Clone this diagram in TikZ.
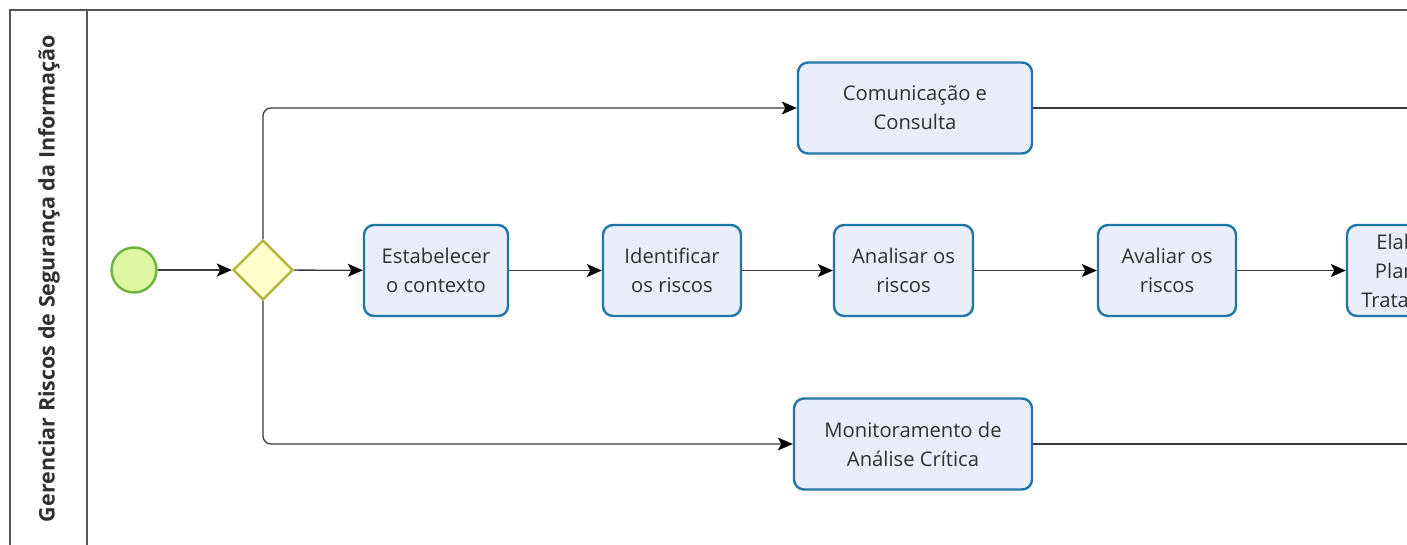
\documentclass[tikz,border=0pt]{standalone}
\usepackage{fontspec}
\setmainfont{Open Sans}
\usetikzlibrary{shapes.geometric,arrows.meta}
\definecolor{taskfill}{HTML}{EAEEFC}
\definecolor{taskdraw}{HTML}{2176A8}
\definecolor{startfill}{HTML}{DDF7A2}
\definecolor{startdraw}{HTML}{6CB33E}
\definecolor{gwfill}{HTML}{FFFFCC}
\definecolor{gwdraw}{HTML}{B3B33C}
\definecolor{txt}{HTML}{303030}
\definecolor{framecol}{HTML}{555555}
\definecolor{flowcol}{HTML}{3A3A3A}
\begin{document}
\begin{tikzpicture}[x=1pt,y=-1pt,
  task/.style={draw=taskdraw, fill=taskfill, line width=2.4pt, rounded corners=10pt,
    minimum height=91pt, align=center, font=\fontsize{20.2}{29}\selectfont, text=txt, inner sep=0pt},
  flow/.style={draw=flowcol, line width=1.3pt, rounded corners=8pt,
    -{Stealth[length=15pt,width=13pt,inset=3.5pt,color=black]}},
  plain/.style={draw=flowcol, line width=1.3pt},
  lanefr/.style={draw=framecol, line width=1.5pt}
]
\clip (0,0) rectangle (1407,545);
\fill[white] (0,0) rectangle (1407,545);
% frame
\coordinate (tr) at (1420,10);
\coordinate (tl) at (10,10);
\coordinate (bl) at (10,600);
\coordinate (st) at (87,10);
\coordinate (sb) at (87,600);
\draw[lanefr] (tr) -- (tl) -- (bl);
\draw[lanefr] (st) -- (sb);
\node[rotate=90, font=\bfseries\fontsize{21.5}{24}\selectfont, text=txt] (lane) at (49,278.5)
  {Gerenciar Riscos de Segurança da Informação};
% events
\node[circle, draw=startdraw, fill=startfill, line width=2.4pt, minimum size=45pt, inner sep=0pt] (start) at (134,270) {};
\node[diamond, draw=gwdraw, fill=gwfill, line width=2.4pt, minimum width=60pt, minimum height=60pt, inner sep=0pt, aspect=1] (gw) at (263,270) {};
% tasks
\node[task, minimum width=144pt] (ctx) at (436,270.5) {Estabelecer\\o contexto};
\node[task, minimum width=138pt] (ident) at (672,270.5) {Identificar\\os riscos};
\node[task, minimum width=139pt] (anal) at (903.5,270.5) {Analisar os\\riscos};
\node[task, minimum width=138pt] (aval) at (1167,270.5) {Avaliar os\\riscos};
\node[task, minimum width=138pt] (elab) at (1416,270.5) {Elaborar\\Plano de\\Tratamento};
\node[task, minimum width=234pt] (com) at (915,108) {Comunicação e\\Consulta};
\node[task, minimum width=238pt] (mon) at (913,444) {Monitoramento de\\Análise Crítica};
\coordinate (redge) at (1420,0);
% flows
\draw[flow] (start) -- (gw);
\draw[flow] (gw) -- (ctx);
\draw[flow] (ctx) -- (ident);
\draw[flow] (ident) -- (anal);
\draw[flow] (anal) -- (aval);
\draw[flow] (aval) -- (elab);
\draw[flow] (gw.north) |- (com.west);
\draw[flow] (gw.south) |- (mon.west);
\draw[plain] (com.east) -- (com.east -| redge);
\draw[plain] (mon.east) -- (mon.east -| redge);
\end{tikzpicture}
\end{document}
